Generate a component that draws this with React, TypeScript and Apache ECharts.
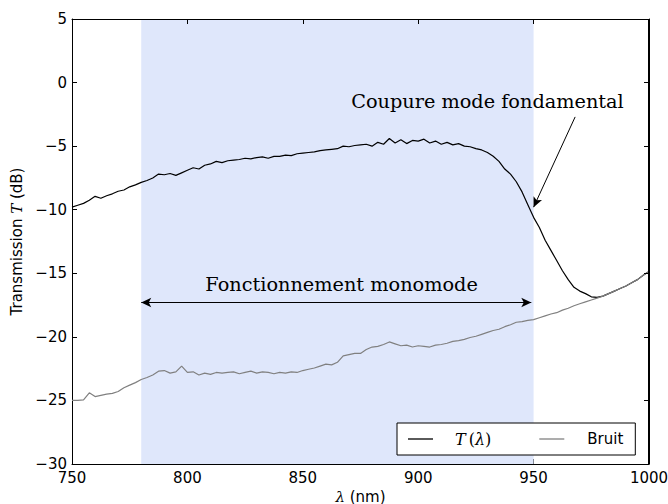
import React, { useEffect, useRef } from 'react';
import * as echarts from 'echarts';

const wavelengths = [
  750, 752.5, 755, 757.5, 760, 762.5, 765, 767.5, 770, 772.5, 775, 777.5, 780,
  782.5, 785, 787.5, 790, 792.5, 795, 797.5, 800, 802.5, 805, 807.5, 810, 812.5, 815, 817.5, 820,
  822.5, 825, 827.5, 830, 832.5, 835, 837.5, 840, 842.5, 845, 847.5, 850, 852.5, 855, 857.5, 860,
  862.5, 865, 867.5, 870, 872.5, 875, 877.5, 880, 882.5, 885, 887.5, 890, 892.5, 895, 897.5, 900,
  902.5, 905, 907.5, 910, 912.5, 915, 917.5, 920, 922.5, 925, 927.5, 930, 932.5, 935, 937.5, 940,
  942.5, 945, 947.5, 950, 952.5, 955, 957.5, 960, 962.5, 965, 967.5, 970, 972.5, 975, 977.5, 980,
  982.5, 985, 987.5, 990, 992.5, 995, 997.5, 1000,
];

const transmission = [
  -9.8, -9.65, -9.5, -9.25, -8.95, -9.1, -8.9, -8.75, -8.55, -8.45, -8.2, -8.05, -7.85,
  -7.7, -7.5, -7.2, -7.25, -7.15, -7.3, -7.1, -6.9, -6.7, -6.8, -6.5, -6.4, -6.2, -6.3, -6.15, -6.1,
  -6.05, -5.95, -6.0, -5.9, -5.85, -5.95, -5.8, -5.8, -5.7, -5.75, -5.6, -5.55, -5.5, -5.45, -5.35, -5.3,
  -5.25, -5.2, -5.0, -5.05, -4.95, -4.9, -4.85, -5.0, -4.7, -4.85, -4.4, -4.75, -4.5, -4.8, -4.55, -4.6,
  -4.45, -4.75, -4.6, -4.85, -4.7, -4.9, -4.8, -5.0, -5.05, -5.2, -5.3, -5.5, -5.8, -6.2, -6.8, -7.2,
  -7.8, -8.6, -9.6, -10.6, -11.4, -12.4, -13.2, -14.0, -14.8, -15.5, -16.1, -16.4, -16.6, -16.85, -16.9, -16.8,
  -16.6, -16.4, -16.2, -16.0, -15.75, -15.5, -15.15, -14.85,
];

const noise = [
  -25.0, -25.0, -24.95, -24.4, -24.7, -24.6, -24.5, -24.45, -24.3, -24.0, -23.8, -23.6, -23.35,
  -23.2, -23.0, -22.7, -22.65, -22.85, -22.75, -22.3, -22.8, -22.75, -23.0, -22.85, -22.95, -22.8, -22.85, -22.8, -22.75,
  -22.9, -22.8, -22.7, -22.85, -22.75, -22.8, -22.9, -22.8, -22.85, -22.75, -22.8, -22.65, -22.55, -22.45, -22.3, -22.15,
  -22.2, -22.0, -21.5, -21.4, -21.3, -21.3, -21.0, -20.8, -20.75, -20.6, -20.4, -20.55, -20.7, -20.65, -20.8, -20.7,
  -20.75, -20.8, -20.65, -20.6, -20.5, -20.35, -20.3, -20.2, -20.05, -19.95, -19.8, -19.65, -19.5, -19.4, -19.2, -19.05,
  -18.85, -18.8, -18.7, -18.65, -18.5, -18.35, -18.2, -18.1, -17.9, -17.75, -17.55, -17.4, -17.25, -17.1, -16.95, -16.8,
  -16.6, -16.4, -16.2, -16.0, -15.75, -15.5, -15.15, -14.85,
];

const xRange = [750, 1000];
const yRange = [-30, 5];
const xTicks = [750, 800, 850, 900, 950, 1000];
const yTicks = [-30, -25, -20, -15, -10, -5, 0, 5];
const band = [780, 950];
const seriesNames = ['T (λ)', 'Bruit'];

const SANS = 'DejaVu Sans';
const SERIF = 'DejaVu Serif';

export default function App() {
  const ref = useRef<HTMLDivElement>(null);
  useEffect(() => {
    const chart = echarts.init(ref.current!, null, { renderer: 'svg' });
    const minus = (v: number) => String(v).replace('-', '\u2212');
    const mkTick = () => ({ show: true, inside: true, length: 5, lineStyle: { color: '#000000', width: 1 } });
    const mkLine = () => ({ show: true, onZero: false, lineStyle: { color: '#000000', width: 1 } });
    const label = { color: '#000', fontFamily: SANS, fontSize: 15 };
    const xBase = () => ({ type: 'value', min: xRange[0], max: xRange[1], interval: 50, splitLine: { show: false }, axisLine: mkLine(), axisTick: mkTick() });
    const yBase = () => ({ type: 'value', min: yRange[0], max: yRange[1], interval: 5, splitLine: { show: false }, axisLine: mkLine(), axisTick: mkTick() });
    const arrowLines: any[] = [
      [{ coord: [968, -2.7], symbol: 'none' }, { coord: [950, -9.8], symbol: 'arrow' }],
      [{ coord: [band[0], -17.3], symbol: 'arrow' }, { coord: [949, -17.3], symbol: 'arrow' }],
    ];
    chart.setOption({
      animation: false,
      grid: {
        left: 72, right: 19, top: 19, bottom: 40,
        outerBoundsMode: 'none',
      },
      xAxis: [
        {
          ...xBase(), position: 'bottom',
          axisLabel: { ...label, margin: 6, formatter: (v: number) => String(v) },
          name: '{i|λ} (nm)', nameLocation: 'middle', nameGap: 20,
          nameTextStyle: { ...label, rich: { i: { fontFamily: SERIF, fontStyle: 'italic', fontSize: 15 } } },
        },
        { ...xBase(), position: 'top', axisLabel: { show: true, formatter: () => '' } },
      ],
      yAxis: [
        {
          ...yBase(), position: 'left',
          axisLabel: { ...label, margin: 5, formatter: minus },
          name: 'Transmission {i|T} (dB)', nameLocation: 'middle', nameGap: 38,
          nameTextStyle: { ...label, rich: { i: { fontFamily: SERIF, fontStyle: 'italic', fontSize: 15 } } },
        },
        { ...yBase(), position: 'right', axisLabel: { show: true, formatter: () => '' } },
      ],
      legend: {
        data: [
          { name: seriesNames[0], icon: 'rect' },
          { name: seriesNames[1], icon: 'rect' },
        ],
        left: 397, top: 423,
        orient: 'horizontal',
        padding: [8, 12, 8, 11],
        itemWidth: 25, itemHeight: 1.3, itemGap: 48,
        backgroundColor: '#fff', borderColor: '#000', borderWidth: 1, borderRadius: 0,
        formatter: (n: string) => (n === 'Bruit' ? '{s|Bruit}' : '{i0|T}{r|(}{i|λ}{r|)}'),
        textStyle: {
          rich: {
            s: { fontFamily: SANS, fontSize: 15, color: '#000', padding: [0, 0, 0, 18] },
            i0: { fontFamily: SERIF, fontStyle: 'italic', fontSize: 16, color: '#000', padding: [0, 3, 0, 17] },
            i: { fontFamily: SERIF, fontStyle: 'italic', fontSize: 16, color: '#000' },
            r: { fontFamily: SERIF, fontSize: 16, color: '#000' },
          },
        },
      },
      series: [
        {
          type: 'line', name: seriesNames[0], z: 3, clip: false,
          data: wavelengths.map((w, i) => [w, transmission[i]]),
          showSymbol: false, symbol: 'none',
          lineStyle: { color: '#000', width: 1.2 },
          itemStyle: { color: '#000' },
          markArea: {
            silent: true,
            itemStyle: { color: '#dfe7fb', opacity: 1 },
            data: [[{ xAxis: band[0] }, { xAxis: band[1] }]],
          },
          markLine: {
            silent: true,
            symbolSize: [7, 10],
            label: { show: false },
            lineStyle: { color: '#000', width: 1, type: 'solid' },
            data: arrowLines,
          },
        },
        {
          type: 'line', name: seriesNames[1], z: 4,
          xAxisIndex: 1, yAxisIndex: 1,
          data: wavelengths.map((w, i) => [w, noise[i]]),
          showSymbol: false, symbol: 'none',
          lineStyle: { color: '#808080', width: 1.2 },
          itemStyle: { color: '#808080' },
        },
      ],
    });
    const px = (x: number, y: number) => chart.convertToPixel({ gridIndex: 0 }, [x, y]) as number[];
    const p1 = px(930, -1.45);
    const p2 = px(866.8, -15.9);
    const tl = px(xRange[0], yRange[1]);
    const br = px(xRange[1], yRange[0]);
    const dy = ((yRange[1] - yRange[0]) * 5) / (br[1] - tl[1]);
    const dx = ((xRange[1] - xRange[0]) * 5) / (br[0] - tl[0]);
    const seg = (a: number[], b: number[]) => [{ coord: a, symbol: 'none' }, { coord: b, symbol: 'none' }];
    const frameLines: any[] = [
      seg([xRange[0], yRange[1]], [xRange[1], yRange[1]]),
      seg([xRange[1], yRange[1]], [xRange[1], yRange[0]]),
      ...xTicks.map((t) => seg([t, yRange[1]], [t, yRange[1] - dy])),
      ...yTicks.map((t) => seg([xRange[1], t], [xRange[1] - dx, t])),
    ];
    const top = Math.round(tl[1]) + 0.5;
    const right = Math.round(br[0]) - 0.5;
    const mk = (x1: number, y1: number, x2: number, y2: number) => ({
      type: 'line', z: 60, silent: true,
      shape: { x1, y1, x2, y2 },
      style: { stroke: '#000000', lineWidth: 1 },
    });
    chart.setOption({
      series: [
        {
          name: seriesNames[0],
          markLine: {
            silent: true,
            symbolSize: [7, 10],
            label: { show: false },
            lineStyle: { color: '#000', width: 1, type: 'solid' },
            data: [...arrowLines, ...frameLines],
          },
        },
      ],
      graphic: [
        mk(tl[0], top, br[0], top),
        mk(right, tl[1], right, br[1]),
        { type: 'text', x: p1[0], y: p1[1], z: 10, style: { text: 'Coupure mode fondamental', fontFamily: SERIF, fontSize: 19.3, fill: '#000', align: 'center', verticalAlign: 'middle' } },
        { type: 'text', x: p2[0], y: p2[1], z: 10, style: { text: 'Fonctionnement monomode', fontFamily: SERIF, fontSize: 19.3, fill: '#000', align: 'center', verticalAlign: 'middle' } },
      ],
    });
    return () => chart.dispose();
  }, []);
  return <div ref={ref} style={{ position: 'absolute', left: 0, top: 0, width: 668, height: 504 }} />;
}
